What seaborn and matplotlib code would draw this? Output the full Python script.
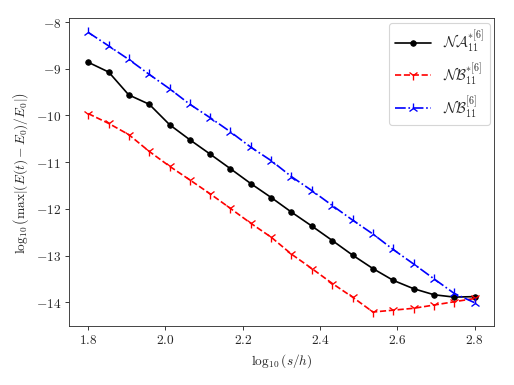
import matplotlib
matplotlib.use("Agg")
import matplotlib.pyplot as plt
import seaborn as sns
import pandas as pd

# log10(s/h) sample points
x_vals = [1.800, 1.853, 1.905, 1.958, 2.011, 2.063, 2.116, 2.168, 2.221, 2.274,
          2.326, 2.379, 2.432, 2.484, 2.537, 2.589, 2.642, 2.695, 2.747, 2.800]

na_star = [-8.86, -9.07, -9.56, -9.76, -10.20, -10.52, -10.83, -11.14, -11.46, -11.76,
           -12.07, -12.37, -12.68, -12.99, -13.28, -13.53, -13.71, -13.84, -13.89, -13.88]
nb_star = [-9.96, -10.17, -10.41, -10.77, -11.09, -11.38, -11.68, -11.99, -12.31, -12.61,
           -12.97, -13.28, -13.60, -13.89, -14.21, -14.17, -14.13, -14.06, -13.99, -13.92]
nb = [-8.22, -8.51, -8.80, -9.12, -9.43, -9.76, -10.05, -10.35, -10.68, -10.97,
      -11.31, -11.61, -11.93, -12.24, -12.54, -12.87, -13.18, -13.50, -13.81, -14.01]

labels = [r"$\mathcal{NA}_{11}^{*[6]}$", r"$\mathcal{NB}_{11}^{*[6]}$", r"$\mathcal{NB}_{11}^{[6]}$"]

df = pd.DataFrame({"x": x_vals, "na_star": na_star, "nb_star": nb_star, "nb": nb})

sns.set_theme(style="ticks")
plt.rcParams["font.family"] = ["serif"]
plt.rcParams["font.serif"] = ["cmr10", "DejaVu Serif"]
plt.rcParams["mathtext.fontset"] = "cm"
plt.rcParams["axes.formatter.use_mathtext"] = True
plt.rcParams["axes.unicode_minus"] = True

fig = plt.figure(figsize=(6.4, 4.8), dpi=514 / 6.4)
ax = fig.add_axes([0.134, 0.153, 0.827, 0.798])

sns.lineplot(data=df, x="x", y="na_star", ax=ax, color="black", marker="o",
             markersize=5, markeredgecolor="black", linestyle="-", linewidth=1.5,
             label=labels[0])
sns.lineplot(data=df, x="x", y="nb_star", ax=ax, color="red", marker="1",
             markersize=9, markeredgecolor="red", markeredgewidth=1.2,
             linestyle="--", linewidth=1.5, label=labels[1])
sns.lineplot(data=df, x="x", y="nb", ax=ax, color="blue", marker="2",
             markersize=9, markeredgecolor="blue", markeredgewidth=1.2,
             linestyle="-.", linewidth=1.5, label=labels[2])

ax.set_xticks([1.8, 2.0, 2.2, 2.4, 2.6, 2.8])
ax.set_yticks([-14, -13, -12, -11, -10, -9, -8])
ax.set_xlabel(r"$\log_{10}(s/h)$", fontsize=12)
ax.set_ylabel(r"$\log_{10}\left(\max|(E(t)-E_0)/E_0|\right)$", fontsize=12)
ax.tick_params(labelsize=12, length=3.5, width=0.8)
for s in ax.spines.values():
    s.set_linewidth(0.8)
    s.set_color("0.2")

ax.legend(loc="upper right", fontsize=13, framealpha=0.8, edgecolor="0.8",
          fancybox=True, handlelength=2.5, borderaxespad=0.3)

fig.savefig("out.png", dpi=514 / 6.4)
